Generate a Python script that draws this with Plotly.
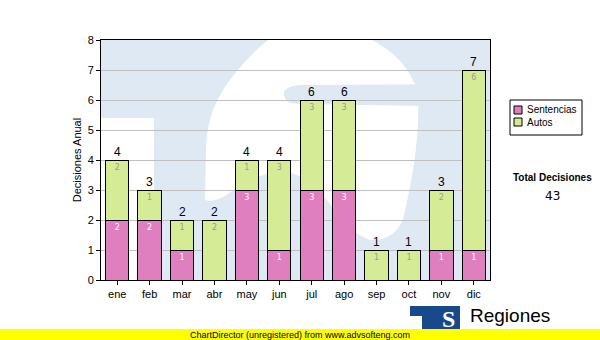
import plotly.graph_objects as go

# Monthly decisions, split by type
months = ["ene", "feb", "mar", "abr", "may", "jun", "jul", "ago", "sep", "oct", "nov", "dic"]
sentencias = [2, 2, 1, 0, 3, 1, 3, 3, 0, 0, 1, 1]
autos = [2, 1, 1, 2, 1, 3, 3, 3, 1, 1, 2, 6]
totales = [s + a for s, a in zip(sentencias, autos)]
total_decisiones = sum(totales)

PINK = "#e07fc0"
GREEN = "#d5eb96"
WATERMARK = "#dee9f3"
LOGO_BLUE = "#17498b"
FONT = "Liberation Sans"

# Plot-area frame in page pixels, used to place decorations in paper units
L, R, T, B = 101, 490, 40, 280


def px(xp):
    return (xp - L) / (R - L)


def py(yp):
    return (B - yp) / (B - T)


def path(cmds):
    """Build an SVG path in paper units; one command per segment."""
    out = []
    for op, pts in cmds:
        step = 3 if op == "C" else 1
        for i in range(0, len(pts), step):
            chunk = pts[i:i + step]
            coords = " ".join(f"{px(x):.4f},{py(y):.4f}" for x, y in chunk)
            out.append(f"{op}{coords}")
    return " ".join(out) + " Z"


fig = go.Figure()

fig.add_bar(
    name="Sentencias", x=months, y=sentencias, width=0.72,
    marker=dict(color=PINK, line=dict(color="black", width=1)),
    text=[str(v) if v else "" for v in sentencias],
    textposition="inside", insidetextanchor="end", textangle=0,
    textfont=dict(size=8, color="white", family="DejaVu Sans"),
    hoverinfo="skip",
)
fig.add_bar(
    name="Autos", x=months, y=autos, width=0.72,
    marker=dict(color=GREEN, line=dict(color="black", width=1)),
    text=[str(v) if v else "" for v in autos],
    textposition="inside", insidetextanchor="end", textangle=0,
    textfont=dict(size=8, color="#9a9a9a", family="DejaVu Sans"),
    hoverinfo="skip",
)

annotations = []
# totals above each stacked bar
for m, t in zip(months, totales):
    annotations.append(dict(
        x=m, y=t, xref="x", yref="y", text=str(t), showarrow=False,
        yanchor="bottom", yshift=-1, font=dict(size=12, color="black", family=FONT),
    ))

shapes = []
# faint logo watermark behind the bars
shapes.append(dict(type="rect", xref="paper", yref="paper", x0=0, x1=1, y0=0, y1=1,
                   layer="below", line=dict(width=0), fillcolor=WATERMARK))
shapes.append(dict(type="rect", xref="paper", yref="paper", x0=0, x1=px(154), y0=0, y1=py(118),
                   layer="below", line=dict(width=0), fillcolor="white"))
s_body = path([
    ("M", [(268, 40)]),
    ("L", [(372, 40)]),
    ("C", [(395, 52), (410, 68), (418, 92)]),
    ("C", [(420, 140), (412, 180), (404, 215)]),
    ("C", [(400, 232), (388, 240), (372, 240)]),
    ("C", [(355, 238), (340, 215), (325, 198)]),
    ("C", [(312, 183), (300, 173), (285, 172)]),
    ("C", [(260, 171), (240, 185), (225, 196)]),
    ("C", [(218, 200), (210, 202), (205, 200)]),
    ("L", [(206, 150)]),
    ("C", [(207, 120), (215, 100), (230, 80)]),
    ("C", [(245, 60), (258, 48), (268, 40)]),
])
shapes.append(dict(type="path", xref="paper", yref="paper", path=s_body,
                   layer="below", line=dict(width=0), fillcolor="white"))
s_counter = path([
    ("M", [(490, 84)]),
    ("L", [(300, 85)]),
    ("C", [(288, 86), (283, 90), (284, 95)]),
    ("C", [(285, 101), (290, 104), (300, 104)]),
    ("L", [(490, 107)]),
])
shapes.append(dict(type="path", xref="paper", yref="paper", path=s_counter,
                   layer="below", line=dict(width=0), fillcolor=WATERMARK))

# legend box
shapes.append(dict(type="rect", xref="paper", yref="paper", x0=px(510), x1=px(582),
                   y0=py(135), y1=py(100), line=dict(color="black", width=1), fillcolor="white"))
for yy, col in [(106, PINK), (118, GREEN)]:
    shapes.append(dict(type="rect", xref="paper", yref="paper", x0=px(514), x1=px(522),
                       y0=py(yy + 8), y1=py(yy), line=dict(color="black", width=1), fillcolor=col))
annotations.append(dict(x=px(525), y=py(110), xref="paper", yref="paper", text="Sentencias",
                        showarrow=False, xanchor="left", yanchor="middle",
                        font=dict(size=10, color="black", family=FONT)))
annotations.append(dict(x=px(525), y=py(122), xref="paper", yref="paper", text="Autos",
                        showarrow=False, xanchor="left", yanchor="middle",
                        font=dict(size=10, color="black", family=FONT)))

# grand total
annotations.append(dict(x=px(552), y=py(177), xref="paper", yref="paper", text="<b>Total Decisiones</b>",
                        showarrow=False, xanchor="center", yanchor="middle",
                        font=dict(size=10, color="black", family=FONT)))
annotations.append(dict(x=px(552), y=py(196), xref="paper", yref="paper", text=str(total_decisiones),
                        showarrow=False, xanchor="center", yanchor="middle",
                        font=dict(size=12, color="black", family="DejaVu Sans")))

# brand logo
shapes.append(dict(type="path", xref="paper", yref="paper", line=dict(width=0), fillcolor=LOGO_BLUE,
                   path=path([("M", [(410, 306)]),
                              ("L", [(460, 306), (460, 332), (422, 332), (422, 316), (410, 316)])])))
annotations.append(dict(x=px(448), y=py(319), xref="paper", yref="paper", text="<b>S</b>",
                        showarrow=False, xanchor="center", yanchor="middle",
                        font=dict(size=24, color="white", family="Liberation Serif")))
annotations.append(dict(x=px(468), y=py(315), xref="paper", yref="paper", text="Regiones",
                        showarrow=False, xanchor="left", yanchor="middle",
                        font=dict(size=19, color="black", family=FONT)))

# footer band
shapes.append(dict(type="rect", xref="paper", yref="paper", x0=px(0), x1=px(600),
                   y0=py(340), y1=py(329), line=dict(width=0), fillcolor="#ffff00"))
annotations.append(dict(x=px(300), y=py(334.5), xref="paper", yref="paper",
                        text="ChartDirector (unregistered) from www.advsofteng.com",
                        showarrow=False, xanchor="center", yanchor="middle",
                        font=dict(size=9, color="black", family=FONT)))

fig.update_layout(
    width=600, height=340,
    margin=dict(l=L, r=600 - R, t=T, b=340 - B, pad=0),
    paper_bgcolor="white", plot_bgcolor="white",
    barmode="stack", showlegend=False,
    font=dict(family=FONT, color="black"),
    shapes=shapes, annotations=annotations,
    uniformtext=dict(minsize=8, mode="show"),
)
fig.update_xaxes(
    type="category", categoryorder="array", categoryarray=months,
    showline=True, linecolor="black", linewidth=1, mirror=True,
    ticks="outside", ticklen=4, tickcolor="black",
    tickfont=dict(size=11, color="black", family=FONT), showgrid=False,
)
fig.update_yaxes(
    range=[0, 8], tick0=0, dtick=1,
    showline=True, linecolor="black", linewidth=1, mirror=True,
    ticks="outside", ticklen=4, tickcolor="black",
    tickfont=dict(size=11, color="black", family=FONT),
    showgrid=True, gridcolor="#c0c0c0", gridwidth=1, zeroline=False,
    title=dict(text="Decisiones Anual", font=dict(size=11, color="black", family=FONT), standoff=3),
)

fig.write_html("out.html")
